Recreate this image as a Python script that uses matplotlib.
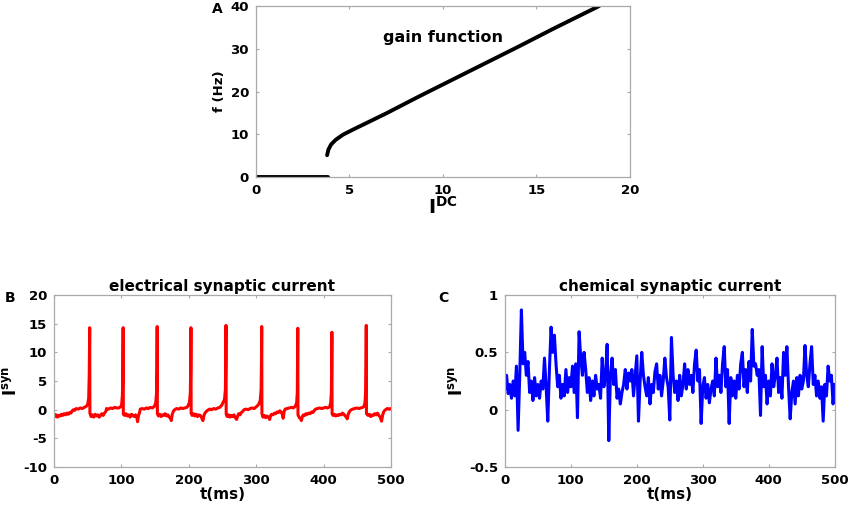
import numpy as np
import matplotlib
matplotlib.use('Agg')
import matplotlib.pyplot as plt

plt.rcParams['font.family'] = ['DejaVu Sans']
plt.rcParams['font.weight'] = 'bold'
plt.rcParams['axes.unicode_minus'] = False
plt.rcParams['mathtext.fontset'] = 'custom'
plt.rcParams['mathtext.rm'] = 'DejaVu Sans:bold'
plt.rcParams['mathtext.it'] = 'DejaVu Sans:bold'
plt.rcParams['mathtext.bf'] = 'DejaVu Sans:bold'

# panel A: gain function; nan breaks the line at the jump
gain_I = [0, 3.86, np.nan, 3.81, 3.88, 4.02, 4.27, 4.66, 5.2, 6.09, 6.98, 8.75, 10.53, 12.31, 14.09, 15.87, 18.36]
gain_f = [0, 0, np.nan, 5.1, 6.4, 7.6, 8.7, 9.9, 11.1, 13.0, 14.9, 18.9, 22.8, 26.7, 30.6, 34.6, 40.0]

# panel B: electrical synaptic current, (t, I) pairs
elec_t = [0, 1, 3, 5, 7, 9, 11, 13, 15, 17, 19, 21, 23, 25, 27, 29, 31, 33, 36, 39, 42, 45, 48, 50, 51.5, 52.3, 53, 53.3,
          55, 57, 59, 61, 63, 65, 67, 69, 71, 73, 75, 77, 78, 81, 84, 87, 90, 93, 96, 99, 100.5, 101.5, 102.1, 102.6, 102.9,
          105, 107, 109, 111, 113, 115, 117, 119, 121, 123, 124, 125.5, 127, 128, 131, 134, 137, 140, 143, 146, 149, 151, 152.2, 152.7, 153.1, 153.4,
          155, 157, 159, 161, 163, 165, 167, 169, 171, 173, 174, 175.5, 177, 179, 182, 185, 188, 191, 194, 197, 199, 201, 202.3, 202.8, 203.2, 203.5,
          205, 207, 209, 211, 213, 215, 217, 219, 221, 222.5, 224, 226, 228, 231, 234, 237, 240, 243, 246, 249, 251, 253, 254.3, 254.8, 255.2, 255.5,
          257, 259, 261, 263, 265, 267, 269, 271, 272.5, 274, 276, 278, 280, 282, 285, 288, 291, 294, 297, 300, 302, 304, 306, 307.3, 307.8, 308.2, 308.5,
          310, 312, 314, 316, 318, 320, 321.5, 323, 325, 327, 329, 331, 333, 335, 337, 339, 340, 341.5, 343, 346, 349, 352, 355, 358, 360, 361, 361.3, 361.7, 362,
          364, 366, 367, 368.5, 370, 372, 374, 376, 378, 380, 382, 384, 386, 388, 391, 394, 397, 400, 403, 406, 409, 410.5, 411.5, 411.9, 412.3, 412.6,
          414, 416, 418, 420, 422, 424, 426, 428, 430, 432, 434, 435, 436.5, 438, 440, 443, 446, 449, 452, 455, 458, 460, 461.5, 462.5, 462.9, 463.3, 463.6,
          466, 468, 470, 472, 474, 476, 478, 480, 482, 484, 486, 487.5, 489, 491, 493, 495, 497, 500]
elec_I = [-0.8, -1.2, -0.9, -1.3, -1.0, -1.1, -0.8, -1.0, -0.7, -0.9, -0.6, -0.8, -0.5, -0.6, -0.2, 0.0, -0.1, 0.2, 0.1, 0.3, 0.2, 0.4, 0.6, 0.9, 2.0, 6.0, 14.3, -0.6,
          -1.2, -0.9, -1.3, -0.8, -1.1, -0.9, -1.3, -1.0, -0.7, -1.0, -0.6, -0.3, 0.2, 0.1, 0.3, 0.2, 0.4, 0.3, 0.3, 0.5, 1.0, 2.5, 6.0, 14.3, -0.8,
          -1.0, -0.7, -1.1, -0.9, -1.3, -0.8, -1.0, -1.2, -0.9, -1.4, -2.1, -1.0, -0.5, 0.1, 0.2, 0.1, 0.3, 0.2, 0.4, 0.3, 0.6, 1.2, 3.0, 7.0, 14.5, -0.7,
          -1.1, -0.8, -1.2, -0.9, -1.0, -0.7, -1.1, -0.9, -1.3, -1.5, -1.9, -0.8, -0.3, 0.0, 0.2, 0.1, 0.3, 0.2, 0.3, 0.4, 0.7, 1.3, 3.0, 7.0, 14.3, -0.6,
          -1.0, -0.7, -1.1, -0.8, -1.2, -0.9, -1.0, -1.4, -1.9, -1.0, -0.6, -0.3, -0.1, 0.1, 0.0, 0.2, 0.1, 0.3, 0.4, 0.8, 1.3, 1.8, 3.5, 8.0, 14.7, -0.8,
          -1.2, -0.9, -1.3, -1.0, -1.2, -0.9, -1.4, -1.7, -1.1, -0.7, -0.9, -0.5, -0.3, 0.0, 0.1, 0.0, 0.2, 0.3, 0.2, 0.5, 0.7, 1.0, 1.6, 3.5, 8.0, 14.5, -0.7,
          -1.3, -1.0, -1.4, -1.1, -1.3, -1.7, -1.0, -0.8, -0.9, -0.6, -0.7, -0.4, -0.5, -0.2, -0.4, -0.9, -1.5, -0.3, 0.1, 0.2, 0.3, 0.4, 0.3, 0.6, 1.2, 3.0, 8.0, 14.2, -0.9,
          -1.4, -1.6, -1.9, -1.2, -0.9, -1.0, -0.7, -0.8, -0.6, -0.7, -0.4, -0.5, -0.2, 0.1, 0.2, 0.3, 0.2, 0.3, 0.4, 0.3, 0.5, 1.2, 3.0, 7.0, 13.5, -0.7,
          -1.0, -0.8, -1.1, -0.9, -1.0, -0.8, -0.9, -0.6, -0.8, -1.1, -1.3, -1.6, -0.8, -0.4, -0.1, 0.1, 0.2, 0.3, 0.2, 0.3, 0.4, 0.6, 1.3, 3.5, 8.0, 14.7, -0.7,
          -1.0, -0.8, -1.2, -0.9, -1.0, -0.7, -0.9, -0.6, -1.0, -1.3, -2.0, -1.0, -0.4, -0.1, 0.1, 0.2, 0.1, 0.2]

# panel C: chemical synaptic current, one value every 2.5 ms
chem_t = np.arange(0, 500.1, 2.5)
chem_I = [0.18, 0.30, 0.14, 0.22, 0.10, 0.25, 0.12, 0.38, -0.18, 0.30,
          0.87, 0.40, 0.50, 0.30, 0.42, 0.15, 0.25, 0.08, 0.28, 0.12,
          0.22, 0.10, 0.25, 0.18, 0.45, 0.20, -0.10, 0.35, 0.72, 0.50,
          0.65, 0.40, 0.20, 0.30, 0.10, 0.22, 0.12, 0.35, 0.15, 0.28,
          0.20, 0.38, 0.15, 0.40, -0.07, 0.68, 0.45, 0.30, 0.50, 0.35,
          0.15, 0.28, 0.08, 0.25, 0.12, 0.30, 0.18, 0.22, 0.10, 0.45,
          0.20, 0.28, 0.57, -0.27, 0.30, 0.45, 0.22, 0.35, 0.10, 0.18,
          0.05, 0.15, 0.22, 0.35, 0.18, 0.32, 0.25, 0.35, 0.12, 0.30,
          0.47, -0.10, 0.25, 0.50, 0.30, 0.20, 0.12, 0.28, 0.05, 0.22,
          0.15, 0.33, 0.40, 0.18, 0.30, 0.12, 0.25, 0.45, 0.28, 0.20,
          -0.09, 0.63, 0.30, 0.15, 0.25, 0.08, 0.30, 0.12, 0.22, 0.40,
          0.18, 0.35, 0.22, 0.30, 0.15, 0.40, 0.52, 0.25, 0.35, -0.12,
          0.20, 0.28, 0.10, 0.22, 0.06, 0.18, 0.25, 0.12, 0.45, 0.20,
          0.30, 0.15, 0.40, 0.55, 0.20, 0.35, -0.12, 0.28, 0.12, 0.25,
          0.10, 0.30, 0.18, 0.40, 0.50, 0.20, 0.35, 0.15, 0.42, 0.25,
          0.70, 0.38, 0.40, 0.30, 0.35, -0.05, 0.55, 0.20, 0.30, 0.05,
          0.25, 0.12, 0.40, 0.20, 0.30, 0.45, 0.15, 0.28, 0.10, 0.50,
          0.30, 0.55, 0.20, -0.08, 0.15, 0.25, 0.05, 0.28, 0.12, 0.30,
          0.18, 0.25, 0.56, 0.30, 0.20, 0.40, 0.55, 0.22, 0.30, 0.12,
          0.25, 0.10, 0.20, -0.10, 0.22, 0.12, 0.38, 0.25, 0.30, 0.05,
          0.22]

spine_col = '#aaaaaa'


def style(ax):
    for s in ax.spines.values():
        s.set_color(spine_col)
        s.set_linewidth(0.9)
    ax.tick_params(direction='in', length=2.5, width=0.8, color=spine_col,
                   top=True, right=True, labelsize=9.5, pad=5)
    for lab in ax.get_xticklabels() + ax.get_yticklabels():
        lab.set_fontweight('bold')


fig = plt.figure(figsize=(8.5, 5.05), dpi=100)

axA = fig.add_axes([0.301, 0.6495, 0.44, 0.3386])
axA.plot(gain_I, gain_f, color='black', lw=2.8, solid_capstyle='round')
axA.set_xlim(0, 20)
axA.set_ylim(0, 40)
axA.set_xticks([0, 5, 10, 15, 20])
axA.set_yticks([0, 10, 20, 30, 40])
axA.text(10, 32.7, 'gain function', ha='center', va='center', fontsize=11.5, fontweight='bold')
axA.set_xlabel(r'$\mathrm{I^{DC}}$', fontsize=14, labelpad=-1)
axA.set_ylabel('f (Hz)', fontsize=9.5, fontweight='bold', labelpad=3)
style(axA)

axB = fig.add_axes([0.0635, 0.0752, 0.3965, 0.3406])
axB.plot(elec_t, elec_I, color='red', lw=2.2)
axB.set_xlim(0, 500)
axB.set_ylim(-10, 20)
axB.set_xticks([0, 100, 200, 300, 400, 500])
axB.set_yticks([-10, -5, 0, 5, 10, 15, 20])
axB.set_title('electrical synaptic current', fontsize=11, fontweight='bold', pad=3)
axB.set_xlabel('t(ms)', fontsize=11, fontweight='bold', labelpad=0)
axB.set_ylabel(r'$\mathrm{I^{syn}}$', fontsize=12, labelpad=2)
style(axB)

axC = fig.add_axes([0.594, 0.0752, 0.388, 0.3406])
axC.plot(chem_t, chem_I, color='blue', lw=2.2)
axC.set_xlim(0, 500)
axC.set_ylim(-0.5, 1)
axC.set_xticks([0, 100, 200, 300, 400, 500])
axC.set_yticks([-0.5, 0, 0.5, 1])
axC.set_yticklabels(['-0.5', '0', '0.5', '1'])
axC.set_title('chemical synaptic current', fontsize=11, fontweight='bold', pad=3)
axC.set_xlabel('t(ms)', fontsize=11, fontweight='bold', labelpad=0)
axC.set_ylabel(r'$\mathrm{I^{syn}}$', fontsize=12, labelpad=2)
style(axC)

fig.text(217 / 850, 1 - 9 / 505, 'A', fontsize=10, fontweight='bold', ha='center', va='center')
fig.text(10 / 850, 1 - 298 / 505, 'B', fontsize=10, fontweight='bold', ha='center', va='center')
fig.text(443 / 850, 1 - 298 / 505, 'C', fontsize=10, fontweight='bold', ha='center', va='center')

fig.savefig('out.png', dpi=100)
